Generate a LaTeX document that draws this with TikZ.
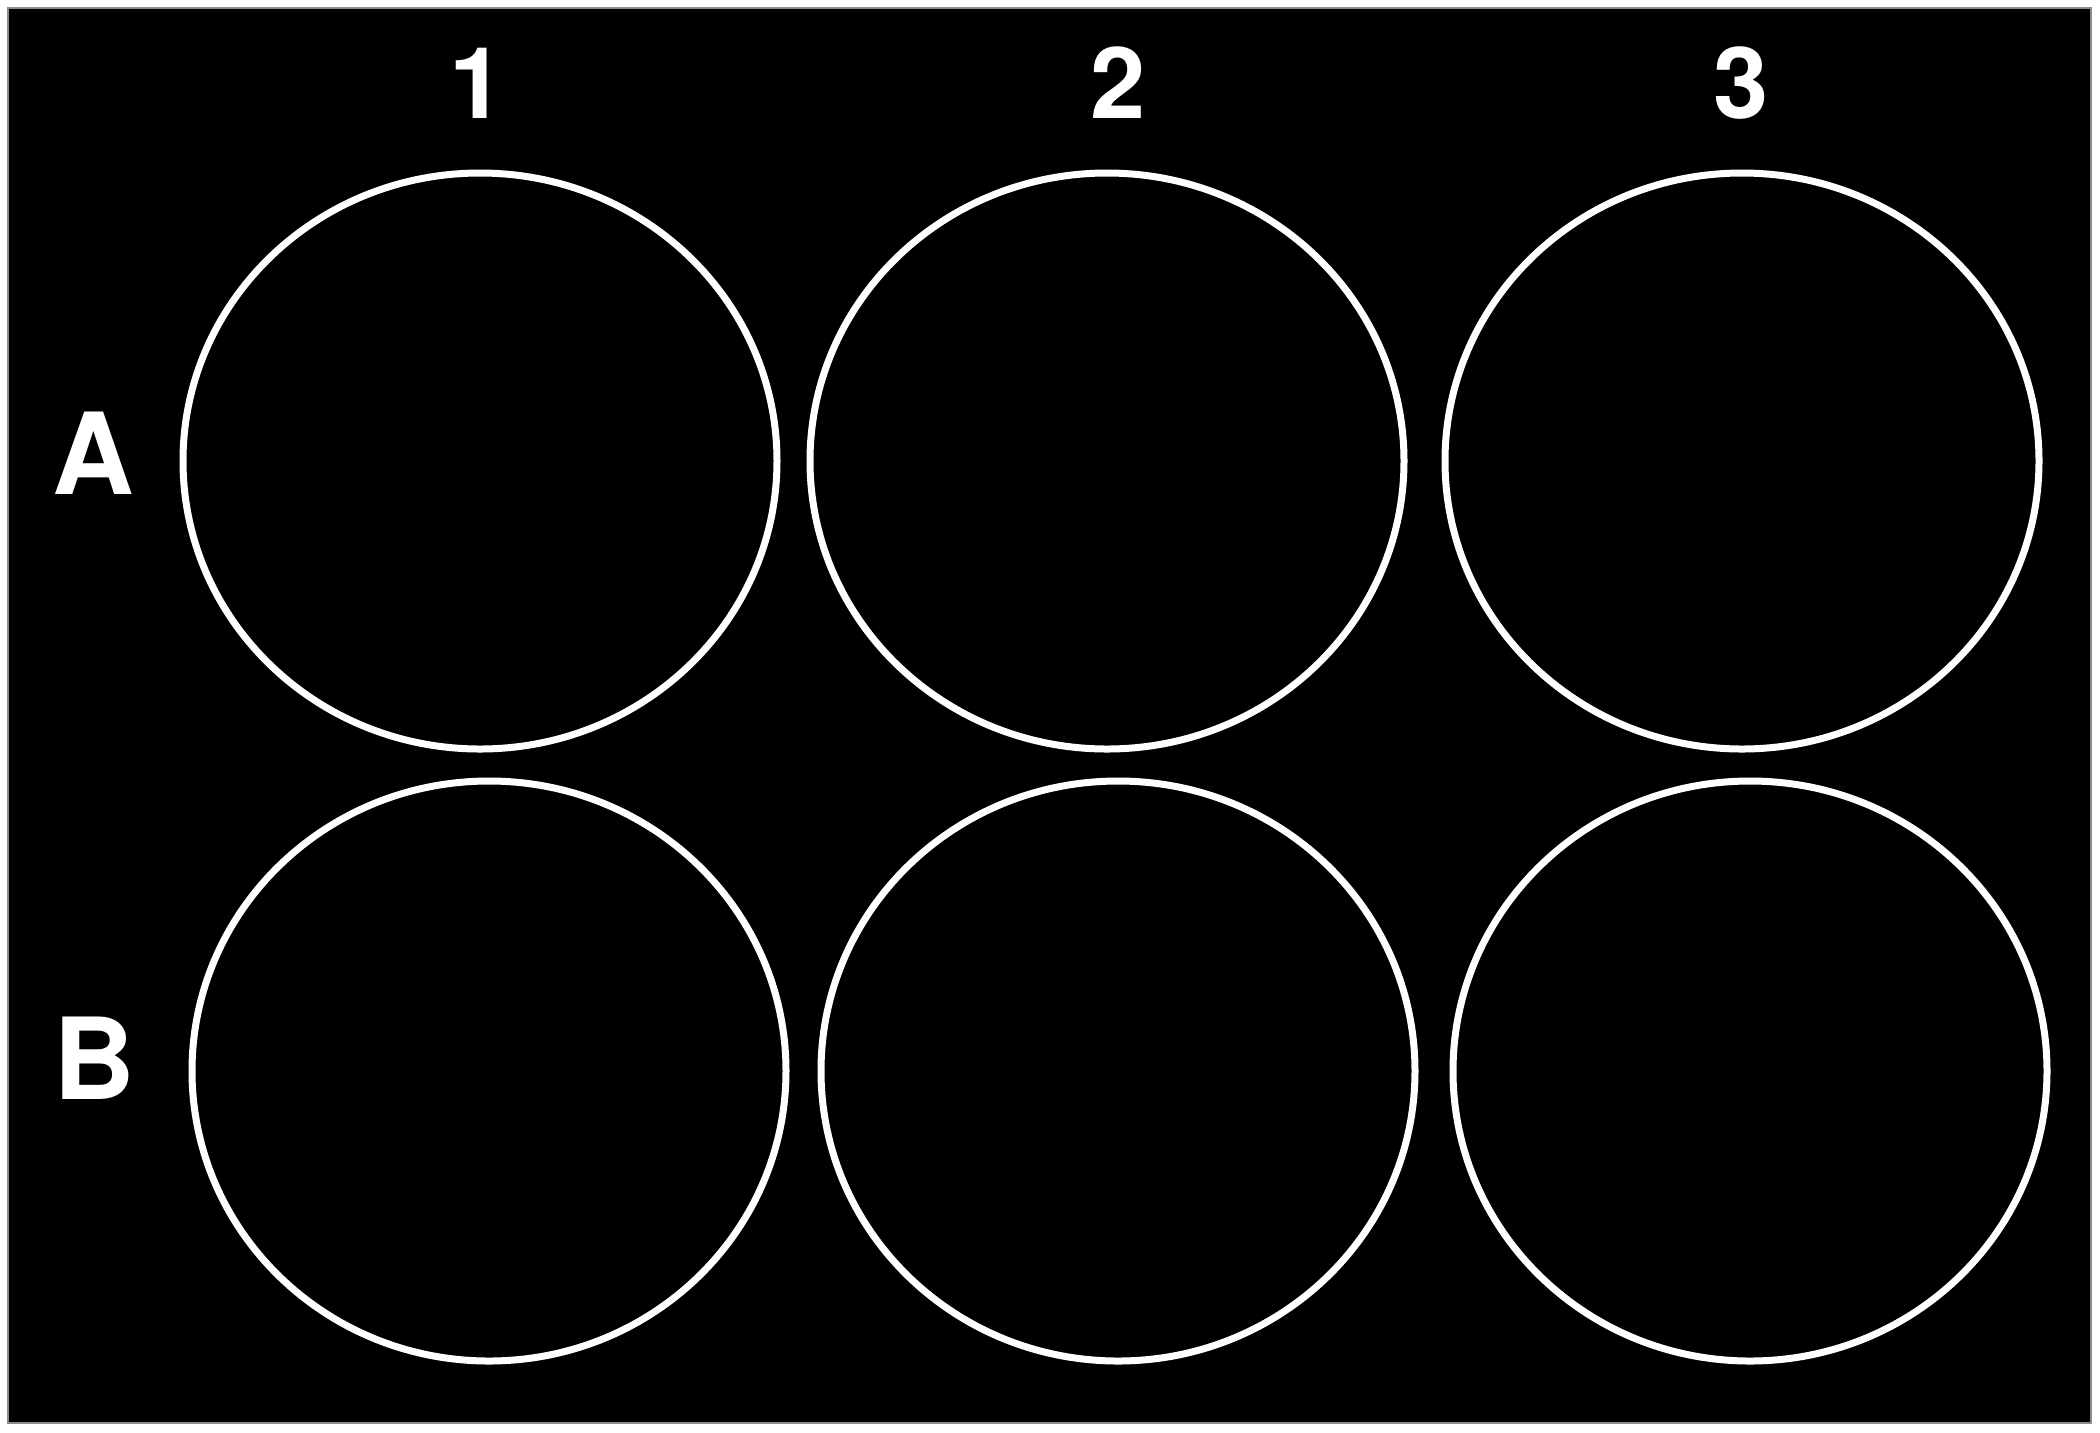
\documentclass[tikz,border=0pt]{standalone}
\usepackage{fontspec}
\setmainfont{TeX Gyre Heros}
\usetikzlibrary{shapes.geometric}
\begin{document}
\begin{tikzpicture}[x=0.5pt,y=-0.5pt,
  well/.style={draw=white,line width=3.5pt,ellipse,inner sep=0pt,outer sep=0pt,
    minimum width=297pt,minimum height=288pt},
  collab/.style={text=white,font=\bfseries\fontsize{49.6}{50}\selectfont,inner sep=0pt},
  rowlab/.style={text=white,font=\bfseries\fontsize{56.6}{58}\selectfont,inner sep=0pt}]
\useasboundingbox (0,0) rectangle (2100,1432);
\fill[white] (0,0) rectangle (2100,1432);
\filldraw[fill=black,draw=black!45,line width=0.8pt] (8,8) rectangle (2091,1423);
\node[collab] (c1) at (477,83) {1};
\node[collab] (c2) at (1118,83) {2};
\node[collab] (c3) at (1741,83) {3};
\node[rowlab] (rA) at (93,453) {A};
\node[rowlab] (rB) at (94,1058) {B};
\node[well] (A1) at (480,461) {};
\node[well] (A2) at (1107,461) {};
\node[well] (A3) at (1742,461) {};
\node[well,minimum height=290pt] (B1) at (489,1071) {};
\node[well,minimum height=290pt] (B2) at (1118,1071) {};
\node[well,minimum height=290pt] (B3) at (1750,1071) {};
\end{tikzpicture}
\end{document}
